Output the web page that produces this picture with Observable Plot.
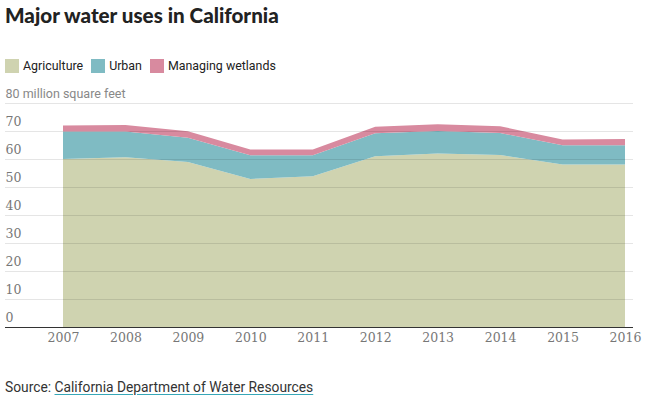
<!DOCTYPE html>
<html>
<head>
<meta charset="utf-8">
<script src="https://cdn.jsdelivr.net/npm/d3@7"></script>
<script src="https://cdn.jsdelivr.net/npm/@observablehq/plot@0.6"></script>
<style>
  html, body { margin: 0; padding: 0; background: #fff; width: 649px; height: 399px; overflow: hidden; position: relative; }
  #title { position: absolute; left: 5px; top: 3px; font-family: Lato, sans-serif; font-weight: 900; font-size: 20.6px; color: #222; white-space: nowrap; }
  #legend { position: absolute; left: 5px; top: 58px; font-family: Roboto, sans-serif; font-size: 12.4px; color: #222; display: flex; align-items: center; white-space: nowrap; }
  #legend .item { display: flex; align-items: center; margin-right: 8px; }
  #legend .sw { width: 14px; height: 14px; margin-right: 4px; display: inline-block; }
  #chart { position: absolute; left: 0; top: 80px; }
  #source { position: absolute; left: 5px; top: 379px; font-family: Roboto, sans-serif; font-size: 13.8px; color: #333; white-space: nowrap; }
  #source span { text-decoration: underline; text-decoration-color: #37a7b8; text-underline-offset: 2px; }
</style>
</head>
<body>
<div id="title">Major water uses in California</div>
<div id="legend"></div>
<div id="chart"></div>
<div id="source">Source: <span>California Department of Water Resources</span></div>
<script>
const years = [2007, 2008, 2009, 2010, 2011, 2012, 2013, 2014, 2015, 2016];
const agriculture = [60.0, 60.6, 58.9, 52.9, 53.8, 61.0, 62.0, 61.4, 58.0, 58.0];
const urban = [9.8, 9.2, 8.7, 8.4, 7.5, 8.2, 8.0, 7.9, 6.9, 6.9];
const wetlands = [2.2, 2.3, 2.3, 2.1, 2.1, 2.3, 2.4, 2.4, 2.1, 2.2];
const seriesNames = ["Agriculture", "Urban", "Managing wetlands"];
const seriesColors = ["#cfd3b0", "#7fbbc3", "#d88a9f"];
const yTicks = [0, 10, 20, 30, 40, 50, 60, 70, 80];
const yUnit = "million square feet";

const seriesValues = [agriculture, urban, wetlands];
const data = [];
seriesNames.forEach((name, i) => {
  years.forEach((yr, j) => data.push({year: yr, value: seriesValues[i][j], series: name}));
});

// legend
const legend = document.getElementById("legend");
seriesNames.forEach((name, i) => {
  const item = document.createElement("div");
  item.className = "item";
  const sw = document.createElement("span");
  sw.className = "sw";
  sw.style.background = seriesColors[i];
  item.appendChild(sw);
  item.appendChild(document.createTextNode(name));
  legend.appendChild(item);
});

const chart = Plot.plot({
  width: 649,
  height: 275,
  marginLeft: 63,
  marginRight: 24,
  marginTop: 23,
  marginBottom: 28,
  x: {domain: [2007, 2016], axis: null},
  y: {domain: [0, 80], axis: null},
  color: {domain: seriesNames, range: seriesColors},
  marks: [
    Plot.areaY(data, {x: "year", y: "value", fill: "series", z: "series", order: seriesNames}),
    Plot.ruleY(yTicks.filter(d => d > 0), {y: d => d, stroke: "#000", strokeOpacity: 0.1, insetLeft: -58, insetRight: -8}),
    Plot.ruleY([0], {stroke: "#333", strokeWidth: 1.2, insetLeft: -58, insetRight: -8}),
    Plot.text(yTicks.filter(d => d < 80), {
      y: d => d, text: d => String(d), frameAnchor: "left", textAnchor: "start",
      dx: -58, dy: -10, fill: "#777", fontSize: 12.5, fontFamily: "DejaVu Serif", letterSpacing: 0.5
    }),
    Plot.text([80], {
      y: d => d, text: d => d + " " + yUnit, frameAnchor: "left", textAnchor: "start",
      dx: -58, dy: -10, fill: "#888", fontSize: 12.5, fontFamily: "Roboto"
    }),
    Plot.text(years, {
      x: d => d, text: d => String(d), frameAnchor: "bottom", dy: 14,
      fill: "#777", fontSize: 12.5, fontFamily: "DejaVu Serif", letterSpacing: 0.5
    })
  ]
});
document.getElementById("chart").appendChild(chart);
</script>
</body>
</html>
